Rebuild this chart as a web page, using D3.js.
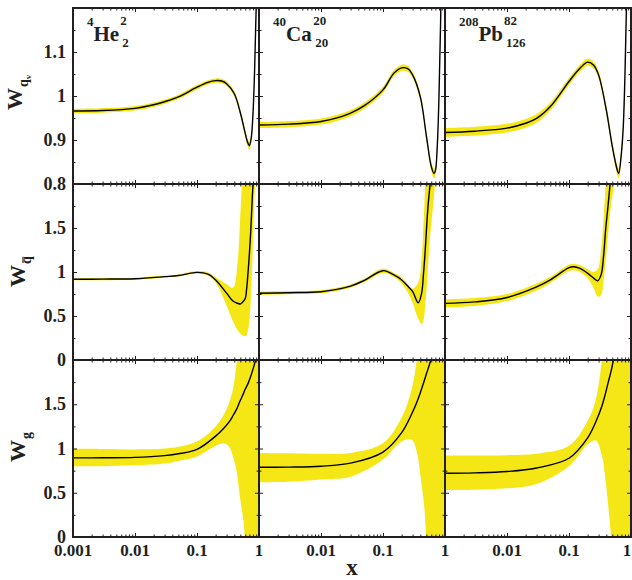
<!DOCTYPE html>
<html>
<head>
<meta charset="utf-8">
<script src="https://cdn.jsdelivr.net/npm/d3@7"></script>
<style>
  body { margin: 0; background: #fff; }
  svg { display: block; }
  text { font-family: "Liberation Serif", "Times New Roman", serif; font-weight: bold; fill: #231f20; }
</style>
</head>
<body>
<svg id="chart" width="632" height="580"></svg>
<script>
// Nuclear modification weights vs x: rows = valence quarks, sea quarks, gluons;
// columns = 4He, 40Ca, 208Pb. Each row of data is [x, lower, central, upper].

const nuclei = [
  { mass: "4",   symbol: "He", z: "2",  n: "2" },
  { mass: "40",  symbol: "Ca", z: "20", n: "20" },
  { mass: "208", symbol: "Pb", z: "82", n: "126" }
];

const heValence = [
  [0.001, 0.961, 0.966, 0.971], [0.003, 0.962, 0.967, 0.972], [0.01, 0.967, 0.972, 0.977],
  [0.02, 0.975, 0.980, 0.985], [0.03, 0.982, 0.987, 0.992], [0.05, 0.993, 0.998, 1.003],
  [0.1, 1.015, 1.020, 1.025], [0.15, 1.026, 1.031, 1.036], [0.2, 1.030, 1.035, 1.040],
  [0.25, 1.029, 1.034, 1.039], [0.3, 1.023, 1.028, 1.033], [0.4, 0.999, 1.005, 1.011],
  [0.5, 0.955, 0.962, 0.969], [0.6, 0.907, 0.915, 0.923], [0.65, 0.887, 0.896, 0.905],
  [0.7, 0.878, 0.887, 0.896], [0.75, 0.896, 0.905, 0.914], [0.8, 0.951, 0.960, 0.969],
  [0.85, 1.050, 1.060, 1.070], [0.9, 1.19, 1.20, 1.21], [0.95, 1.44, 1.45, 1.46], [1.0, 1.78, 1.80, 1.82]
];
const caValence = [
  [0.001, 0.927, 0.934, 0.941], [0.003, 0.929, 0.936, 0.943], [0.01, 0.935, 0.942, 0.949],
  [0.02, 0.945, 0.952, 0.959], [0.03, 0.954, 0.961, 0.968], [0.05, 0.971, 0.978, 0.985],
  [0.1, 1.007, 1.014, 1.021], [0.15, 1.045, 1.052, 1.059], [0.2, 1.057, 1.064, 1.071],
  [0.25, 1.055, 1.062, 1.069], [0.3, 1.041, 1.048, 1.055], [0.4, 0.990, 0.998, 1.006],
  [0.5, 0.901, 0.910, 0.919], [0.6, 0.830, 0.840, 0.850], [0.665, 0.813, 0.824, 0.835],
  [0.7, 0.819, 0.830, 0.841], [0.75, 0.874, 0.885, 0.896], [0.8, 0.99, 1.00, 1.01],
  [0.85, 1.16, 1.17, 1.18], [0.9, 1.39, 1.40, 1.41], [0.95, 1.69, 1.70, 1.71], [1.0, 1.99, 2.00, 2.01]
];
const pbValence = [
  [0.001, 0.907, 0.917, 0.927], [0.003, 0.910, 0.920, 0.930], [0.01, 0.917, 0.927, 0.937],
  [0.02, 0.928, 0.938, 0.948], [0.03, 0.939, 0.949, 0.959], [0.05, 0.967, 0.976, 0.985],
  [0.1, 1.025, 1.033, 1.041], [0.15, 1.055, 1.063, 1.071], [0.2, 1.069, 1.077, 1.085],
  [0.25, 1.062, 1.070, 1.078], [0.3, 1.040, 1.048, 1.056], [0.4, 0.959, 0.968, 0.977],
  [0.5, 0.875, 0.885, 0.895], [0.6, 0.821, 0.832, 0.843], [0.634, 0.812, 0.824, 0.836],
  [0.7, 0.858, 0.870, 0.882], [0.75, 0.918, 0.930, 0.942], [0.8, 1.04, 1.05, 1.06],
  [0.85, 1.21, 1.22, 1.23], [0.9, 1.44, 1.45, 1.46], [0.95, 1.74, 1.75, 1.76], [1.0, 2.09, 2.10, 2.11]
];

const heSea = [
  [0.001, 0.905, 0.917, 0.929], [0.003, 0.907, 0.919, 0.931], [0.01, 0.912, 0.924, 0.936],
  [0.03, 0.935, 0.947, 0.959], [0.05, 0.948, 0.960, 0.972], [0.1, 0.982, 0.996, 1.010],
  [0.15, 0.960, 0.977, 0.994], [0.2, 0.88, 0.91, 0.94], [0.3, 0.62, 0.76, 0.86],
  [0.38, 0.44, 0.67, 0.82], [0.45, 0.34, 0.645, 1.10], [0.5, 0.30, 0.636, 1.65],
  [0.53, 0.28, 0.65, 2.0], [0.6, 0.27, 0.70, 3.0], [0.63, 0.28, 0.80, 3.3],
  [0.7, 0.45, 1.21, 4.0], [0.74, 0.72, 1.50, 4.5], [0.78, 1.10, 1.85, 5.0],
  [0.8, 1.35, 2.0, 5.0], [0.86, 2.0, 2.6, 6.0], [0.9, 2.4, 3.0, 6.0], [1.0, 3.5, 4.0, 7.0]
];
const caSea = [
  [0.001, 0.740, 0.758, 0.776], [0.003, 0.747, 0.765, 0.783], [0.01, 0.758, 0.776, 0.794],
  [0.03, 0.822, 0.840, 0.858], [0.05, 0.885, 0.905, 0.925], [0.1, 0.990, 1.015, 1.040],
  [0.15, 0.940, 0.966, 0.990], [0.2, 0.87, 0.91, 0.94], [0.25, 0.77, 0.84, 0.86],
  [0.3, 0.65, 0.78, 0.81], [0.37, 0.47, 0.65, 0.88], [0.42, 0.41, 0.76, 1.15],
  [0.45, 0.45, 0.98, 1.55], [0.48, 0.62, 1.25, 2.0], [0.51, 0.85, 1.56, 2.6],
  [0.54, 1.14, 1.80, 3.2], [0.575, 1.40, 2.0, 3.6], [0.61, 1.59, 2.3, 4.0],
  [0.69, 2.0, 2.8, 5.0], [0.8, 2.8, 3.5, 6.0], [1.0, 4.0, 5.0, 7.0]
];
const pbSea = [
  [0.001, 0.600, 0.644, 0.690], [0.003, 0.615, 0.660, 0.705], [0.01, 0.670, 0.710, 0.750],
  [0.03, 0.790, 0.830, 0.870], [0.05, 0.875, 0.910, 0.945], [0.1, 1.010, 1.050, 1.085],
  [0.12, 1.020, 1.060, 1.095], [0.15, 1.000, 1.040, 1.080], [0.2, 0.93, 0.985, 1.03],
  [0.25, 0.82, 0.93, 1.00], [0.29, 0.72, 0.90, 1.03], [0.33, 0.74, 0.97, 1.25],
  [0.36, 0.90, 1.17, 1.60], [0.39, 1.12, 1.48, 2.0], [0.43, 1.45, 1.78, 2.5],
  [0.46, 1.67, 2.0, 2.9], [0.53, 2.0, 2.5, 3.5], [0.7, 3.0, 3.5, 5.0], [1.0, 4.0, 5.0, 7.0]
];

const heGluon = [
  [0.001, 0.80, 0.894, 0.997], [0.003, 0.80, 0.895, 0.995], [0.01, 0.81, 0.90, 0.99],
  [0.03, 0.83, 0.92, 1.00], [0.05, 0.86, 0.94, 1.02], [0.1, 0.91, 0.99, 1.08],
  [0.2, 1.03, 1.14, 1.25], [0.28, 1.057, 1.24, 1.40], [0.33, 1.02, 1.30, 1.52],
  [0.38, 0.91, 1.37, 1.67], [0.44, 0.73, 1.45, 2.0], [0.49, 0.46, 1.53, 2.4],
  [0.56, 0.19, 1.62, 2.9], [0.59, 0.0, 1.66, 3.2], [0.68, -0.6, 1.75, 4.0],
  [0.86, -1.5, 1.97, 5.0], [1.0, -2.0, 2.15, 6.0]
];
const caGluon = [
  [0.001, 0.62, 0.788, 0.95], [0.003, 0.625, 0.79, 0.945], [0.01, 0.65, 0.80, 0.94],
  [0.03, 0.68, 0.835, 0.95], [0.1, 0.875, 0.96, 1.06], [0.2, 1.08, 1.18, 1.35],
  [0.29, 1.10, 1.39, 1.67], [0.35, 0.97, 1.52, 2.0], [0.4, 0.70, 1.63, 2.4],
  [0.46, 0.36, 1.76, 2.8], [0.5, 0.0, 1.84, 3.1], [0.59, -0.6, 2.0, 3.6],
  [0.8, -1.5, 2.4, 5.0], [1.0, -2.0, 2.8, 6.0]
];
const pbGluon = [
  [0.001, 0.53, 0.72, 0.92], [0.003, 0.535, 0.725, 0.92], [0.01, 0.55, 0.74, 0.925],
  [0.03, 0.60, 0.78, 0.94], [0.1, 0.80, 0.89, 1.03], [0.2, 1.045, 1.12, 1.31],
  [0.27, 1.09, 1.30, 1.55], [0.34, 0.92, 1.48, 2.0], [0.38, 0.70, 1.60, 2.3],
  [0.43, 0.35, 1.75, 2.7], [0.48, 0.0, 1.88, 3.1], [0.52, -0.3, 2.0, 3.4],
  [0.7, -1.2, 2.5, 5.0], [1.0, -2.0, 3.0, 6.0]
];

const panelData = [
  [heValence, caValence, pbValence],
  [heSea, caSea, pbSea],
  [heGluon, caGluon, pbGluon]
];

const yDomains = [[0.8, 1.2], [0, 2], [0, 2]];
const yMajorTicks = [[0.8, 0.9, 1.0, 1.1, 1.2], [0, 0.5, 1, 1.5, 2], [0, 0.5, 1, 1.5, 2]];
const yMinorTicks = [[0.85, 0.95, 1.05, 1.15], [0.25, 0.75, 1.25, 1.75], [0.25, 0.75, 1.25, 1.75]];
const yTickLabels = [["0.8", "0.9", "1", "1.1"], ["0", "0.5", "1", "1.5"], ["0", "0.5", "1", "1.5"]];

const xMajorTicks = [0.001, 0.01, 0.1, 1];
const xTickLabels = ["0.001", "0.01", "0.1", "1"];
const xMinorTicks = [];
[0.001, 0.01, 0.1].forEach(d => { for (let k = 2; k <= 9; k++) xMinorTicks.push(d * k); });

// layout
const colLeft = [73, 259, 445], colWidth = 186;
const rowTop = [8, 184, 360], rowBottom = [184, 360, 537];
const bandColor = "#f5e616";
const ink = "#231f20";
const smooth = d3.curveCatmullRom.alpha(0.5);

const svg = d3.select("#chart");
const defs = svg.append("defs");
const gPlot = svg.append("g");
const gFrame = svg.append("g");

const xScales = colLeft.map(l => d3.scaleLog().domain([0.001, 1]).range([l, l + colWidth]));
const yScales = yDomains.map((dom, r) => d3.scaleLinear().domain(dom).range([rowBottom[r], rowTop[r]]));

panelData.forEach((row, r) => row.forEach((data, c) => {
  const x = xScales[c], y = yScales[r];
  const id = `panel-clip-${r}-${c}`;
  defs.append("clipPath").attr("id", id).append("rect")
    .attr("x", colLeft[c]).attr("y", rowTop[r])
    .attr("width", colWidth).attr("height", rowBottom[r] - rowTop[r]);

  const g = gPlot.append("g").attr("clip-path", `url(#${id})`);
  g.append("path").datum(data)
    .attr("fill", bandColor)
    .attr("d", d3.area().x(d => x(d[0])).y0(d => y(d[1])).y1(d => y(d[3])).curve(smooth));
  g.append("path").datum(data)
    .attr("fill", "none").attr("stroke", "#000").attr("stroke-width", 1.4)
    .attr("d", d3.line().x(d => x(d[0])).y(d => y(d[2])).curve(smooth));

  // inward ticks on all four sides
  const f = gFrame.append("g");
  const tick = (axis, tx, ty, values, size) => {
    f.append("g").attr("transform", `translate(${tx},${ty})`)
      .call(axis.tickValues(values).tickSize(size).tickFormat(""))
      .call(s => s.select(".domain").remove())
      .call(s => s.selectAll("line").attr("stroke", ink).attr("stroke-width", 1));
  };
  tick(d3.axisBottom(x), 0, rowBottom[r], xMajorTicks, -4);
  tick(d3.axisBottom(x), 0, rowBottom[r], xMinorTicks, -2.5);
  tick(d3.axisTop(x), 0, rowTop[r], xMajorTicks, -4);
  tick(d3.axisTop(x), 0, rowTop[r], xMinorTicks, -2.5);
  tick(d3.axisLeft(y), colLeft[c], 0, yMajorTicks[r], -4);
  tick(d3.axisLeft(y), colLeft[c], 0, yMinorTicks[r], -2.5);
  tick(d3.axisRight(y), colLeft[c] + colWidth, 0, yMajorTicks[r], -4);
  tick(d3.axisRight(y), colLeft[c] + colWidth, 0, yMinorTicks[r], -2.5);

  f.append("rect")
    .attr("x", colLeft[c]).attr("y", rowTop[r])
    .attr("width", colWidth).attr("height", rowBottom[r] - rowTop[r])
    .attr("fill", "none").attr("stroke", ink).attr("stroke-width", 2);
}));

// y tick labels on the left column
yTickLabels.forEach((labels, r) => {
  labels.forEach((t, i) => {
    svg.append("text")
      .attr("x", 66).attr("y", yScales[r](yMajorTicks[r][i]) + 6)
      .attr("text-anchor", "end").attr("font-size", 18)
      .text(t);
  });
});

// x tick labels under the bottom row
xScales.forEach((x, c) => {
  xMajorTicks.forEach((v, i) => {
    if (c > 0 && i === 0) return;
    const px = Math.min(x(v), 627);
    svg.append("text")
      .attr("x", px).attr("y", 556)
      .attr("text-anchor", "middle").attr("font-size", 17)
      .text(xTickLabels[i]);
  });
});

// x axis title
svg.append("text").attr("x", 352).attr("y", 575)
  .attr("text-anchor", "middle").attr("font-size", 23).text("x");

// y axis titles
const yTitles = [
  { tx: 22, ty: 110, sub: "q", subsub: "v", bar: false },
  { tx: 25, ty: 287, sub: "q", subsub: null, bar: true },
  { tx: 25, ty: 462, sub: "g", subsub: null, bar: false }
];
yTitles.forEach(t => {
  const g = svg.append("g").attr("transform", `translate(${t.tx},${t.ty}) rotate(-90)`);
  const txt = g.append("text").attr("x", 0).attr("y", 0).attr("font-size", 22);
  txt.append("tspan").text("W");
  txt.append("tspan").attr("font-size", 14).attr("dy", 6).attr("dx", 1).text(t.sub);
  if (t.subsub) txt.append("tspan").attr("font-size", 9).attr("dy", 3).text(t.subsub);
  if (t.bar) {
    const node = txt.node();
    const x0 = node.getStartPositionOfChar(1).x;
    const x1 = node.getEndPositionOfChar(1).x;
    g.append("line").attr("x1", x0 + 1).attr("x2", x1 - 0.5)
      .attr("y1", -2).attr("y2", -2)
      .attr("stroke", ink).attr("stroke-width", 1.2);
  }
});

// nucleus labels
nuclei.forEach((nu, c) => {
  const left = colLeft[c] + 14;
  const t = svg.append("text").attr("x", left).attr("y", 26);
  t.append("tspan").attr("font-size", 13).text(nu.mass);
  t.append("tspan").attr("font-size", 21).attr("y", 41).text(nu.symbol);
  const bb = t.node().getBBox();
  const right = bb.x + bb.width + 1;
  svg.append("text").attr("x", right).attr("y", 25).attr("font-size", 13).text(nu.z);
  svg.append("text").attr("x", right + 2).attr("y", 47).attr("font-size", 13).text(nu.n);
});
</script>
</body>
</html>
